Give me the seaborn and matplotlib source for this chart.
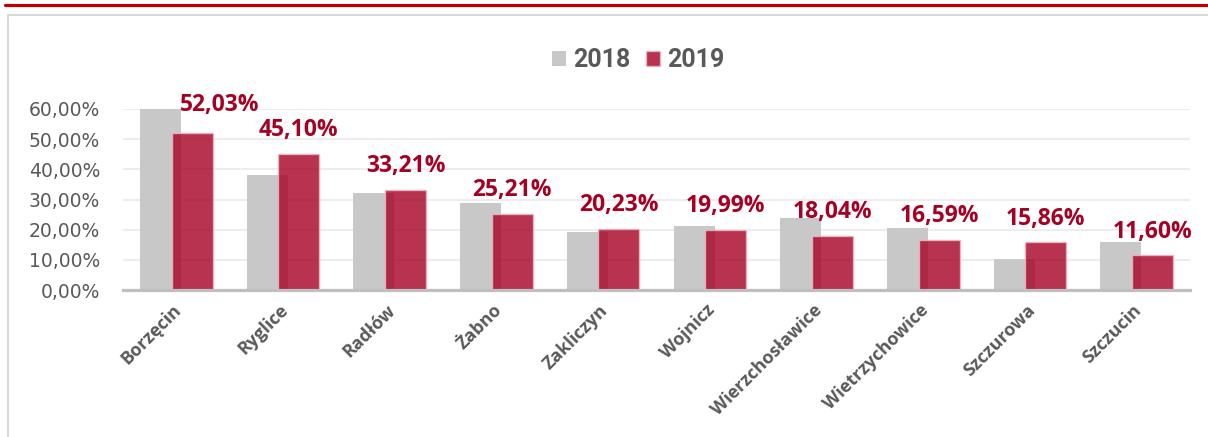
import numpy as np
import pandas as pd
import matplotlib
matplotlib.use("Agg")
import matplotlib.pyplot as plt
import matplotlib.transforms as mtransforms
from matplotlib.patches import Rectangle, Patch
from matplotlib.lines import Line2D
import seaborn as sns

# Data: share per municipality (%), years 2018 and 2019
gminy = ["Borzęcin", "Ryglice", "Radłów", "Żabno", "Zakliczyn", "Wojnicz",
         "Wierzchosławice", "Wietrzychowice", "Szczurowa", "Szczucin"]
udzial_2018 = [60.0, 38.1, 32.0, 29.0, 19.3, 21.3, 23.9, 20.6, 10.4, 15.9]
udzial_2019 = [52.03, 45.10, 33.21, 25.21, 20.23, 19.99, 18.04, 16.59, 15.86, 11.60]
lata = ["2018", "2019"]
y_ticks = [0, 10, 20, 30, 40, 50, 60]

GRAY = "#C8C8C8"
RED = "#A60023"
TEXT = "#595959"
W, H = 1208, 437

sns.set_theme(style="white")
plt.rcParams["font.family"] = ["Open Sans", "DejaVu Sans"]

fig = plt.figure(figsize=(W / 100, H / 100), dpi=100)
ax = fig.add_axes([123 / W, 1 - 290 / H, (1190 - 123) / W, (290 - 109) / H])

idx = np.arange(len(gminy))
shift = 0.148
df = pd.DataFrame({"pos": idx, "y2018": udzial_2018, "y2019": udzial_2019})

sns.barplot(x=df["pos"] - shift, y=df["y2018"], native_scale=True, width=0.385,
            color=GRAY, saturation=1, linewidth=0, ax=ax, zorder=2)
sns.barplot(x=df["pos"] + shift, y=df["y2019"], native_scale=True, width=0.385,
            color=RED, saturation=1, alpha=0.8, edgecolor="#F2B8C4",
            linewidth=1.0, ax=ax, zorder=3)

ax.set_xlim(-0.5, len(gminy) - 0.5)
ax.set_ylim(0, 60)
ax.set_xlabel("")
ax.set_ylabel("")

# y axis: percent labels with decimal comma
ax.set_yticks(y_ticks)
ax.set_yticklabels([f"{v:.2f}%".replace(".", ",") for v in y_ticks],
                   fontsize=13.5, color=TEXT, family=["DejaVu Sans"])
ax.tick_params(axis="y", length=0, pad=16.5)
ax.yaxis.grid(True, color="#EDEDED", linewidth=1.5, zorder=0)
ax.set_axisbelow(True)

for side in ["left", "right", "top"]:
    ax.spines[side].set_visible(False)
ax.spines["bottom"].set_color("#BFBFBF")
ax.spines["bottom"].set_linewidth(2.3)
ax.spines["bottom"].set_zorder(4)

# x axis: rotated municipality names
ax.set_xticks(idx)
ax.set_xticklabels(gminy, rotation=45, ha="right", va="top",
                   rotation_mode="anchor", fontsize=13,
                   fontweight="bold", color=TEXT)
ax.tick_params(axis="x", length=0, pad=8)
offset = mtransforms.ScaledTranslation(-4 / 100, 0, fig.dpi_scale_trans)
for lab in ax.get_xticklabels():
    lab.set_transform(lab.get_transform() + offset)

# value labels above the 2019 bars
label_shift = {0: (28, 22)}
for i, v in enumerate(udzial_2019):
    dx, dy = label_shift.get(i, (0, 17.5))
    ax.annotate(f"{v:.2f}%".replace(".", ","), xy=(i + shift, v),
                xytext=(dx, dy), textcoords="offset pixels",
                ha="center", va="baseline", fontsize=16.5,
                fontweight="bold", color=RED, annotation_clip=False, zorder=5)

# legend
handles = [Patch(facecolor=GRAY, edgecolor="none"),
           Patch(facecolor=RED, alpha=0.8, edgecolor="#F2B8C4", linewidth=1.0)]
fig.legend(handles, lata, loc="center", bbox_to_anchor=(638 / W, 1 - 60 / H),
           ncol=2, frameon=False,
           prop=dict(family=["Roboto", "DejaVu Sans"], weight="bold", size=18),
           labelcolor=TEXT, handlelength=0.56, handleheight=0.56,
           handletextpad=0.3, columnspacing=0.6)

# outer frame and red rule on top
fig.add_artist(Rectangle((8 / W, -0.1), 1.2, 1 - 15 / H + 0.1,
                         transform=fig.transFigure, fill=False,
                         edgecolor="#D9D9D9", linewidth=1.5))
fig.add_artist(Line2D([5 / W, 1], [1 - 5 / H, 1 - 5 / H],
                      transform=fig.transFigure, color="#C00000", linewidth=2.3))

fig.savefig("out.png", dpi=100)
